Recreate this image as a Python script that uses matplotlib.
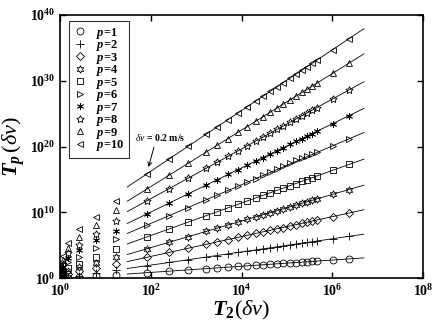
import numpy as np
import matplotlib
matplotlib.use("Agg")
import matplotlib.pyplot as plt

plt.rcParams['font.family'] = ['Liberation Serif', 'DejaVu Serif']
plt.rcParams['mathtext.fontset'] = 'custom'
plt.rcParams['mathtext.rm'] = 'Liberation Serif'
plt.rcParams['mathtext.it'] = 'Liberation Serif:italic'
plt.rcParams['mathtext.bf'] = 'Liberation Serif:bold'
plt.rcParams['mathtext.bfit'] = 'Liberation Serif:bold:italic'

# log10 of T_2(dv) for each velocity increment
t2_exp = [0.01, 0.03, 0.06, 0.18, 0.42, 0.79, 1.23,
          1.92, 2.40, 2.82, 3.22, 3.46, 3.70, 3.92, 4.12, 4.32, 4.47, 4.63,
          4.78, 4.91, 5.07, 5.20, 5.33, 5.44, 5.55, 5.66, 6.01, 6.37]

# log10 of T_p(dv), one list per p
tp1 = [0.00, 0.01, 0.03, 0.08, 0.20, 0.35, 0.50,
       0.85, 1.08, 1.28, 1.46, 1.58, 1.69, 1.79, 1.89, 1.98, 2.05, 2.13,
       2.20, 2.26, 2.33, 2.39, 2.46, 2.51, 2.56, 2.61, 2.77, 2.94]
tp2 = [0.01, 0.03, 0.06, 0.18, 0.42, 0.79, 1.23,
       1.92, 2.40, 2.82, 3.22, 3.46, 3.70, 3.92, 4.12, 4.32, 4.47, 4.63,
       4.78, 4.91, 5.07, 5.20, 5.33, 5.44, 5.55, 5.66, 6.01, 6.37]
tp3 = [0.10, 0.20, 0.35, 0.60, 1.10, 1.60, 2.20,
       3.20, 3.92, 4.56, 5.16, 5.52, 5.89, 6.22, 6.52, 6.82, 7.05, 7.29,
       7.52, 7.71, 7.96, 8.15, 8.35, 8.51, 8.68, 8.85, 9.38, 9.92]
tp4 = [0.20, 0.40, 0.60, 1.10, 1.70, 2.30, 3.20,
       4.50, 5.47, 6.32, 7.12, 7.61, 8.09, 8.54, 8.94, 9.35, 9.65, 9.97,
       10.28, 10.54, 10.86, 11.12, 11.39, 11.61, 11.83, 12.05, 12.76, 13.49]
tp5 = [0.30, 0.60, 0.90, 1.60, 2.20, 3.20, 4.40,
       6.30, 7.49, 8.53, 9.51, 10.11, 10.70, 11.24, 11.74, 12.23, 12.60, 13.00,
       13.37, 13.69, 14.08, 14.40, 14.73, 15.00, 15.27, 15.54, 16.40, 17.29]
tp6 = [0.45, 0.80, 1.30, 2.40, 3.20, 4.60, 6.00,
       8.10, 9.52, 10.75, 11.93, 12.63, 13.34, 13.98, 14.57, 15.16, 15.65, 16.15,
       16.65, 17.05, 17.55, 17.92, 18.30, 18.60, 18.90, 19.15, 20.13, 21.19]
tp7 = [0.60, 1.10, 1.70, 3.10, 4.30, 5.80, 7.20,
       9.80, 11.41, 12.82, 14.16, 14.96, 15.77, 16.50, 17.17, 17.84, 18.34, 18.88,
       19.38, 19.82, 20.35, 20.79, 21.23, 21.59, 21.96, 22.33, 23.50, 24.71]
tp8 = [0.80, 1.40, 2.20, 3.80, 5.10, 6.70, 8.70,
       11.80, 13.61, 15.20, 16.71, 17.62, 18.53, 19.36, 20.11, 20.87, 21.44, 22.04,
       22.61, 23.10, 23.70, 24.20, 24.69, 25.10, 25.52, 25.93, 27.26, 28.62]
tp9 = [1.00, 1.80, 2.80, 4.60, 6.30, 8.10, 10.30,
       13.60, 15.66, 17.46, 19.17, 20.20, 21.23, 22.18, 23.03, 23.89, 24.54, 25.22,
       25.87, 26.42, 27.11, 27.67, 28.23, 28.70, 29.17, 29.64, 31.14, 32.69]
tp10 = [1.20, 2.20, 3.40, 5.40, 7.50, 9.30, 11.70,
        15.90, 18.11, 20.05, 21.89, 23.00, 24.11, 25.12, 26.04, 26.97, 27.66, 28.39,
        29.09, 29.69, 30.42, 31.02, 31.62, 32.13, 32.64, 33.14, 34.76, 36.42]

p_values = [1, 2, 3, 4, 5, 6, 7, 8, 9, 10]
tp_all = [tp1, tp2, tp3, tp4, tp5, tp6, tp7, tp8, tp9, tp10]

# power-law fits: log T_p = icpt + slope * log T_2
fit_slope = [0.47, 1.00, 1.51, 2.02, 2.47, 2.94, 3.35, 3.78, 4.29, 4.61]
fit_icpt = [-0.05, 0.00, 0.30, 0.62, 1.56, 2.46, 3.37, 4.54, 5.36, 7.05]
fit_range = [1.48, 6.70]

x_ticks = [0, 2, 4, 6, 8]
y_ticks = [0, 10, 20, 30, 40]

markers = ['o', '+', 'D', (6, 1, 0), 's', '>', (6, 2, 0), (5, 1, 0), '^', '<']
msizes = [5, 6, 4, 5.5, 4, 5, 5, 5.5, 5, 5]

fig = plt.figure(figsize=(4.36, 3.27), dpi=100)
ax = fig.add_axes([0.138, 0.149, 0.832, 0.805])

t2 = 10 ** np.array(t2_exp)
xf = np.linspace(fit_range[0], fit_range[1], 50)
for p, tp, m, ms, s, c in zip(p_values, tp_all, markers, msizes, fit_slope, fit_icpt):
    ax.plot(10 ** xf, 10 ** (c + s * xf), color='black', lw=0.6)
    ax.plot(t2, 10 ** np.array(tp), linestyle='none', marker=m, ms=ms,
            mfc='none', mec='black', mew=0.6,
            label=r'$\mathbfit{p}$=%d' % p)

ax.set_xscale('log')
ax.set_yscale('log')
ax.set_xlim(1, 1e8)
ax.set_ylim(1, 1e40)
ax.set_xticks([10.0 ** e for e in x_ticks])
ax.set_xticklabels([r'$\mathbf{10^{%d}}$' % e for e in x_ticks])
ax.set_yticks([10.0 ** e for e in y_ticks])
ax.set_yticklabels([r'$\mathbf{10^{%d}}$' % e for e in y_ticks])
ax.minorticks_off()
ax.tick_params(direction='in', top=True, right=True, labelsize=10, length=4, width=1)
for sp in ax.spines.values():
    sp.set_linewidth(1.2)

ax.set_xlabel(r'$\mathbfit{T}_{\mathbf{2}}\mathrm{(}\delta\mathit{v}\mathrm{)}$', fontsize=16, labelpad=0)
ax.set_ylabel(r'$\mathbfit{T}_{\mathbfit{p}}\,\mathrm{(}\delta\mathit{v}\mathrm{)}$', fontsize=16, labelpad=2)

leg = ax.legend(loc='upper left', fontsize=9, frameon=True, fancybox=False,
                edgecolor='black', handlelength=1.0, handletextpad=0.8,
                labelspacing=-0.2, borderpad=0.35, borderaxespad=0.3,
                bbox_to_anchor=(0.015, 0.99))
leg.get_frame().set_linewidth(0.8)
for t in leg.get_texts():
    t.set_fontweight('bold')

ax.annotate(r'$\delta\mathit{v}$ = 0.2 m/s', xy=(10 ** 1.94, 10 ** 16.7),
            xytext=(10 ** 1.65, 10 ** 21.4), ha='left', va='center',
            fontsize=7, fontweight='bold',
            arrowprops=dict(arrowstyle='->', color='black', lw=0.7,
                            relpos=(0.4, 0.0), shrinkA=1, shrinkB=1))

fig.savefig('out.png', dpi=100)
